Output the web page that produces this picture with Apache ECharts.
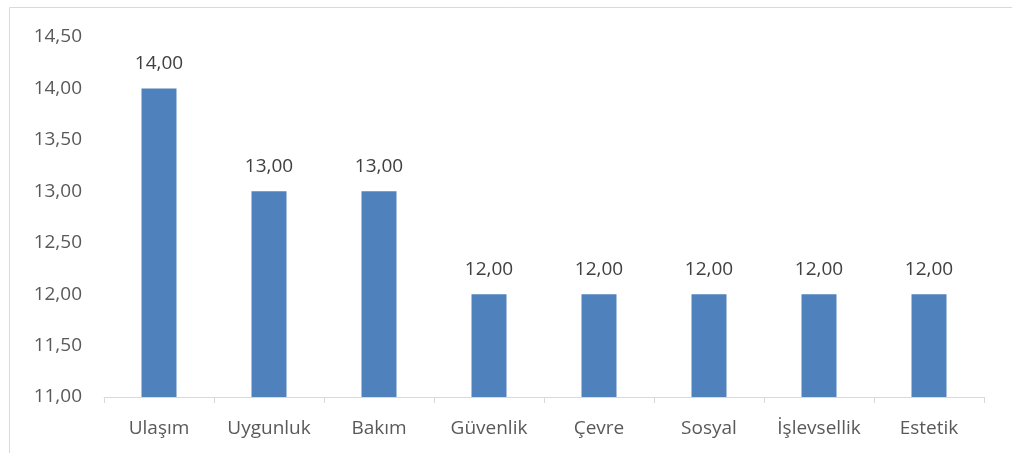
<!DOCTYPE html>
<html>
<head>
<meta charset="utf-8">
<script src="https://cdn.jsdelivr.net/npm/echarts@6/dist/echarts.min.js"></script>
<style>
  html, body { margin: 0; padding: 0; background: #fff; }
  #chart { width: 1012px; height: 453px; }
</style>
</head>
<body>
<div id="chart"></div>
<script>
// categories and values
var categories = ['Ulaşım', 'Uygunluk', 'Bakım', 'Güvenlik', 'Çevre', 'Sosyal', 'İşlevsellik', 'Estetik'];
var scores = [14, 13, 13, 12, 12, 12, 12, 12];
var yMin = 11, yMax = 14.5, yStep = 0.5;

var fmt = function (v) { return Number(v).toFixed(2).replace('.', ','); };
var font = "'Open Sans', 'Noto Sans', sans-serif";

var chart = echarts.init(document.getElementById('chart'));
chart.setOption({
  animation: false,
  graphic: [{
    type: 'rect',
    shape: { x: 9.5, y: 7.5, width: 1020, height: 460 },
    style: { fill: 'none', stroke: '#d9d9d9', lineWidth: 1 },
    silent: true
  }],
  grid: { left: 104, right: 28, top: 37, bottom: 56 },
  xAxis: {
    type: 'category',
    data: categories,
    axisLine: { lineStyle: { color: '#d9d9d9', width: 1 } },
    axisTick: { show: true, alignWithLabel: false, length: 6, lineStyle: { color: '#d9d9d9' } },
    axisLabel: { color: '#595959', fontSize: 19, fontFamily: font, margin: 22 }
  },
  yAxis: {
    type: 'value',
    min: yMin,
    max: yMax,
    interval: yStep,
    axisLine: { show: false },
    axisTick: { show: false },
    splitLine: { show: false },
    axisLabel: { color: '#595959', fontSize: 19, fontFamily: font, margin: 22, formatter: fmt }
  },
  series: [{
    type: 'bar',
    data: scores,
    barWidth: 35,
    itemStyle: { color: '#4f81bd' },
    label: {
      show: true,
      position: 'top',
      distance: 15,
      color: '#404040',
      fontSize: 19,
      fontFamily: font,
      formatter: function (p) { return fmt(p.value); }
    }
  }]
});
</script>
</body>
</html>
